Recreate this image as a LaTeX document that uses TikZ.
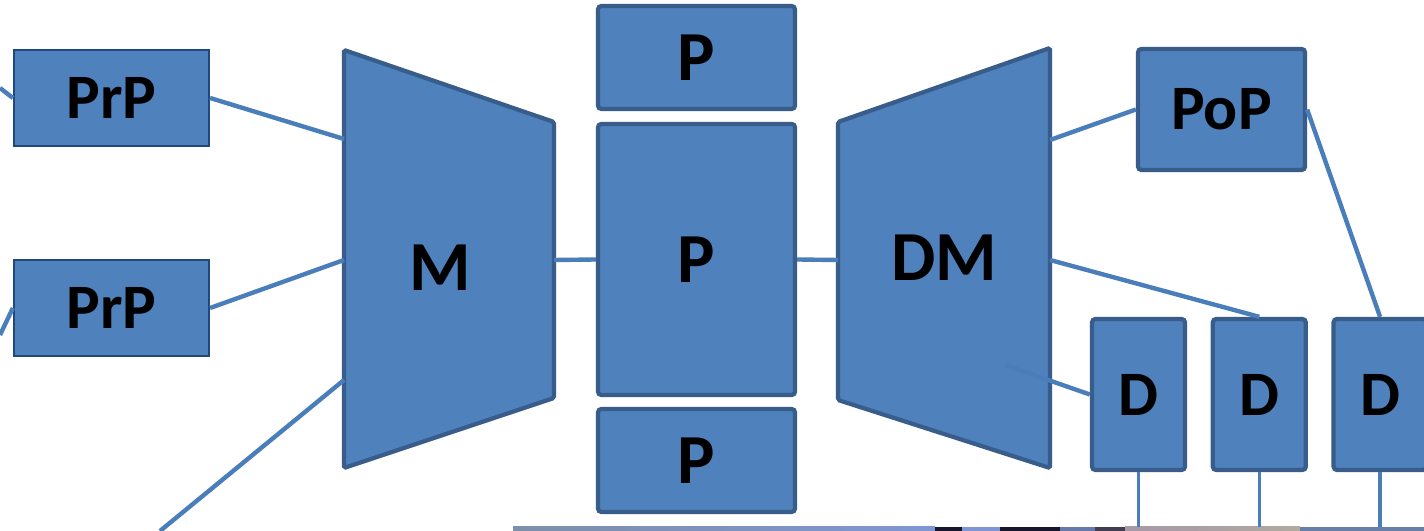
\documentclass[tikz,border=0pt]{standalone}
\usepackage{fontspec}
\setmainfont{Carlito}
\usepackage{tikz}
\usetikzlibrary{positioning,calc}
\definecolor{boxfill}{RGB}{79,129,189}
\definecolor{boxline}{RGB}{56,93,138}
\definecolor{thinline}{RGB}{31,73,125}
\definecolor{wire}{RGB}{74,126,187}
\definecolor{stripA}{RGB}{125,143,170}
\definecolor{stripB}{RGB}{128,150,212}
\definecolor{stripdark}{RGB}{24,22,44}
\definecolor{stripC}{RGB}{168,152,168}
\definecolor{stripD}{RGB}{176,170,160}
\definecolor{stripE}{RGB}{106,127,168}

\begin{document}
\begin{tikzpicture}[x=0.01cm,y=-0.01cm,
  blk/.style={draw=boxline,line width=1.2pt,fill=boxfill,rounded corners=1pt,inner sep=0pt,font=\fontsize{18}{20}\selectfont\bfseries},
  preblk/.style={blk,draw=thinline,line width=0.6pt,rounded corners=0pt},
  big/.style={font=\fontsize{20}{22}\selectfont\bfseries},
  wire/.style={draw=wire,line width=1.25pt},
  thinwire/.style={draw=wire,line width=0.95pt}]
  \clip (0,0) rectangle (1424,531);
  \fill[white] (0,0) rectangle (1424,531);

  % strip of the photo below
  \shade[left color=stripA,right color=stripB] (513,527) rectangle (935,531);
  \fill[stripdark] (935,527) rectangle (962,531);
  \fill[stripB] (962,527) rectangle (1000,531);
  \fill[stripdark] (1000,527) rectangle (1060,531);
  \fill[stripB!80!black] (1060,527) rectangle (1095,531);
  \fill[stripdark!70!stripC] (1095,527) rectangle (1125,531);
  \shade[left color=stripC,right color=stripD] (1125,527) rectangle (1300,531);
  \fill[stripE] (1300,527) rectangle (1424,531);

  % pre-processing
  \node[preblk,minimum width=1.95cm,minimum height=0.96cm] (prp1) at (111.5,98) {PrP};
  \node[preblk,minimum width=1.95cm,minimum height=0.96cm] (prp2) at (111.5,308) {PrP};

  % M block
  \draw[blk,rounded corners=0.5pt] (344,50) -- (554,122) -- (554,398) -- (344,468) -- cycle;
  \node[big] (m) at (440,268) {M};
  \coordinate (min1) at (344,139);
  \coordinate (min2) at (344,260);
  \coordinate (min3) at (344,380);
  \coordinate (mout) at (554,260);

  % P blocks
  \node[blk,big,minimum width=1.97cm,minimum height=1.03cm] (ptop) at (696.5,57.5) {P};
  \node[blk,big,minimum width=1.97cm,minimum height=2.71cm] (pmid) at (696.5,259.5) {P};
  \node[blk,big,minimum width=1.97cm,minimum height=1.03cm] (pbot) at (696.5,460.5) {P};

  % DM block
  \draw[blk,rounded corners=0.5pt] (838,122) -- (1050,48) -- (1050,468) -- (838,400) -- cycle;
  \node[big] (dm) at (944,258) {DM};
  \coordinate (dmin) at (838,260);
  \coordinate (dmout1) at (1050,140);
  \coordinate (dmout2) at (1050,260);
  \coordinate (dminner) at (1005,365);

  % post-processing and D blocks
  \node[blk,minimum width=1.67cm,minimum height=1.21cm] (pop) at (1221.5,109.5) {PoP};
  \node[blk,minimum width=0.93cm,minimum height=1.51cm] (d1) at (1138.5,394.5) {D};
  \node[blk,minimum width=0.93cm,minimum height=1.51cm,right=0.235cm of d1] (d2) {D};
  \node[blk,minimum width=0.93cm,minimum height=1.51cm,right=0.235cm of d2] (d3) {D};

  % free ends
  \coordinate (in1) at (0,88);
  \coordinate (in2) at (0,335);
  \coordinate (in3) at (160,531);
  \coordinate (o1) at (d1.south |- 0,527);
  \coordinate (o2) at (d2.south |- 0,527);
  \coordinate (o3) at (d3.south |- 0,527);

  % connections
  \draw[wire] (in1) -- (prp1.west);
  \draw[wire] (in2) -- (prp2.west);
  \draw[wire] (prp1.east) -- (min1);
  \draw[wire] (prp2.east) -- (min2);
  \draw[wire] (in3) -- (min3);
  \draw[wire] (mout) -- (pmid.west);
  \draw[wire] (pmid.east) -- (dmin);
  \draw[wire] (dmout1) -- (pop.west);
  \draw[wire] (dmout2) -- (d2.north);
  \draw[wire] (pop.east) -- (d3.north);
  \draw[wire] (dminner) -- (d1.west);
  \draw[thinwire] (d1.south) -- (o1);
  \draw[thinwire] (d2.south) -- (o2);
  \draw[thinwire] (d3.south) -- (o3);
\end{tikzpicture}
\end{document}
